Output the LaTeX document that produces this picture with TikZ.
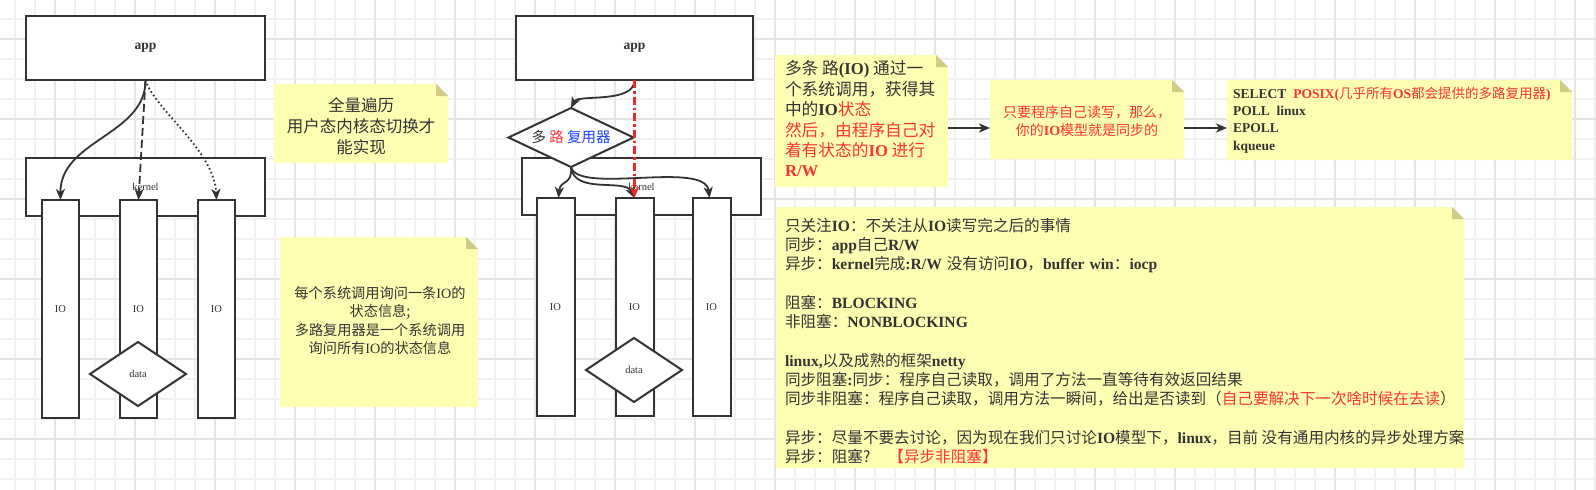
\documentclass[tikz,border=0pt]{standalone}
\usepackage{fontspec}
\setmainfont{Liberation Serif}
\newfontfamily\cjk{Noto Sans CJK SC}
\newfontfamily\lat{Liberation Serif}
\usetikzlibrary{shapes.geometric,arrows.meta}
\definecolor{ink}{HTML}{333333}
\definecolor{notey}{HTML}{FFFFB3}
\definecolor{fold}{HTML}{CFCB84}
\definecolor{myred}{HTML}{FF3333}
\definecolor{linered}{HTML}{F02828}
\definecolor{myblue}{HTML}{1F3FFF}
\definecolor{gridmin}{HTML}{F1F1F1}
\definecolor{gridmaj}{HTML}{E4E4E4}
\newcommand\B[1]{{\lat\bfseries #1}}
\newcommand\Lr[1]{{\lat #1}}
\newcommand\rd[1]{\textcolor{myred}{#1}}
\newcommand\notefill[1]{%
  \fill[notey] (#1.south west) -- (#1.north west) -- ([xshift=-12pt]#1.north east) -- ([yshift=-12pt]#1.north east) -- (#1.south east) -- cycle;
  \fill[fold] ([xshift=-12pt]#1.north east) -- ([xshift=-12pt,yshift=-12pt]#1.north east) -- ([yshift=-12pt]#1.north east) -- cycle;}
\begin{document}
\begin{tikzpicture}[x=1pt,y=-1pt,
  box/.style={rectangle, draw=ink, line width=2pt, fill=white, inner sep=0pt, outer sep=0pt, text=ink},
  dia/.style={diamond, draw=ink, line width=2pt, fill=white, inner sep=0pt, outer sep=0pt, text=ink},
  lbl/.style={font=\lat\fontsize{10.5}{12}\selectfont},
  applbl/.style={font=\lat\bfseries\fontsize{13.5}{15}\selectfont},
  notebox/.style={rectangle, inner sep=0pt, outer sep=0pt},
  txt/.style={inner sep=0pt, outer sep=0pt, text=ink},
  arr/.style={draw=ink, line width=1.8pt, -{Stealth[length=11pt,width=9pt,inset=3pt]}},
  redarr/.style={draw=linered, line width=2.2pt, dash pattern=on 8pt off 3pt on 2.5pt off 3pt, -{Stealth[length=11pt,width=9pt,inset=3pt]}},
]
\useasboundingbox (0,0) rectangle (1596,490);
\fill[white] (0,0) rectangle (1596,490);
% grid
\foreach \x in {15,35,...,1595} \draw[gridmin, line width=1.2pt] (\x,0) -- (\x,490);
\foreach \y in {-1,19,...,489} \draw[gridmin, line width=1.2pt] (0,\y) -- (1596,\y);
\foreach \x in {55,135,...,1595} \draw[gridmaj, line width=1.4pt] (\x,0) -- (\x,490);
\foreach \y in {39,119,...,489} \draw[gridmaj, line width=1.4pt] (0,\y) -- (1596,\y);

% ---------- notes ----------
\node[notebox, minimum width=174, minimum height=79] (n1) at (361,123.5) {};
\notefill{n1}
\node[txt, font=\cjk\fontsize{16.5}{21}\selectfont, align=center] (t1) at (361,126) {全量遍历\\用户态内核态切换才\\能实现};

\node[notebox, minimum width=198, minimum height=170] (n2) at (379,322) {};
\notefill{n2}
\node[txt, font=\cjk\fontsize{14.2}{18.4}\selectfont, align=center] (t2) at (380,320.5) {每个系统调用询问一条\Lr{IO}的\\状态信息;\\多路复用器是一个系统调用\\询问所有\Lr{IO}的状态信息};

\node[notebox, minimum width=173, minimum height=132] (n3) at (861.5,121) {};
\notefill{n3}
\node[txt, font=\cjk\fontsize{16.7}{20.4}\selectfont, align=left, anchor=west] (t3) at (785,119) {多条 路\B{(IO)} 通过一\\个系统调用，获得其\\中的\B{IO}\rd{状态}\\\rd{然后，由程序自己对}\\\rd{着有状态的\B{IO} 进行}\\\rd{\B{R/W}}};

\node[notebox, minimum width=194, minimum height=79] (n4) at (1087,119.5) {};
\notefill{n4}
\node[txt, text=myred, font=\cjk\fontsize{14}{18}\selectfont, align=center] (t4) at (1087,121) {只要程序自己读写，那么，\\你的\B{IO}模型就是同步的};

\node[notebox, minimum width=345, minimum height=80] (n5) at (1399.5,120) {};
\notefill{n5}
\node[txt, font=\cjk\fontsize{13.5}{17.3}\selectfont, align=left, anchor=west] (t5) at (1233,120) {\B{SELECT}\hspace{7pt}\rd{\B{POSIX(}几乎所有\B{OS}都会提供的多路复用器\B{)}}\\\B{POLL\ \ linux}\\\B{EPOLL}\\\B{kqueue}};

\node[notebox, minimum width=688, minimum height=261] (n6) at (1120,337.5) {};
\notefill{n6}
\node[txt, font=\cjk\fontsize{15.6}{19.3}\selectfont, align=left, anchor=west] (t6) at (785,341) {只关注\B{IO}：不关注从\B{IO}读写完之后的事情\\
同步：\B{app}自己\B{R/W}\\
异步：\B{kernel}完成\B{:R/W}\hspace{5pt}没有访问\B{IO}，\B{buffer}\hspace{5pt}\B{win}：\B{iocp}\\
\mbox{}\\
阻塞：\B{BLOCKING}\\
非阻塞：\B{NONBLOCKING}\\
\mbox{}\\
\B{linux,}以及成熟的框架\B{netty}\\
同步阻塞\B{:}同步：程序自己读取，调用了方法一直等待有效返回结果\\
同步非阻塞：程序自己读取，调用方法一瞬间，给出是否读到（\rd{自己要解决下一次啥时候在去读}）\\
\mbox{}\\
异步：尽量不要去讨论，因为现在我们只讨论\B{IO}模型下，\B{linux}，目前 没有通用内核的异步处理方案\\
异步：阻塞?\hspace{18pt}\rd{【异步非阻塞】}};

\draw[arr] ([yshift=-7pt]n3.east) -- ([yshift=-7pt]n3.east -| n4.west);
\draw[arr] ([yshift=-8.5pt]n4.east) -- ([yshift=-8.5pt]n4.east -| n5.west);

% ---------- left diagram ----------
\node[box, minimum width=239, minimum height=58, lbl] (kern1) at (145.5,187) {kernel};
\node[box, minimum width=37, minimum height=218, lbl] (io1a) at (60.5,309) {IO};
\node[box, minimum width=37, minimum height=218, lbl] (io1b) at (138.5,309) {IO};
\node[box, minimum width=37, minimum height=218, lbl] (io1c) at (216.5,309) {IO};
\node[dia, minimum width=96, minimum height=64, lbl] (data1) at (138,374) {data};
\node[box, minimum width=239, minimum height=64, applbl] (app1) at (145.5,48) {app};
\draw[arr] (app1.south) .. controls (146,135) and (60,140) .. (io1a.north);
\draw[arr, dash pattern=on 8pt off 4pt] (app1.south) -- (io1b.north);
\draw[arr, dash pattern=on 1.6pt off 2.6pt] (app1.south) .. controls (155,110) and (214,150) .. (io1c.north);

% ---------- middle diagram ----------
\node[box, minimum width=239, minimum height=57, lbl] (kern2) at (641.5,186.5) {kernel};
\node[box, minimum width=38, minimum height=218, lbl] (io2a) at (555.5,307) {IO};
\node[box, minimum width=38, minimum height=218, lbl] (io2b) at (634.5,307) {IO};
\node[box, minimum width=38, minimum height=218, lbl] (io2c) at (711.5,307) {IO};
\node[dia, minimum width=96, minimum height=64, lbl] (data2) at (634,370) {data};
\node[box, minimum width=237, minimum height=64, applbl] (app2) at (634.5,48) {app};
\node[dia, shape aspect=2.1, minimum width=125, minimum height=59, font=\cjk\fontsize{14.5}{16}\selectfont] (mux) at (571,137.5) {多 \textcolor{myred}{路} \textcolor{myblue}{复用器}};
\draw[arr] (app2.south) .. controls (634.5,104) and (578,94) .. (mux.north);
\draw[arr] (mux.south) .. controls (573,185) and (560,180) .. ([xshift=3pt]io2a.north);
\draw[arr] (mux.south) .. controls (574,195) and (625,178) .. (io2b.north);
\draw[arr] (mux.south) .. controls (578,195) and (705,160) .. ([xshift=-2pt]io2c.north);
\draw[redarr] (app2.south) -- (io2b.north);
\end{tikzpicture}
\end{document}
